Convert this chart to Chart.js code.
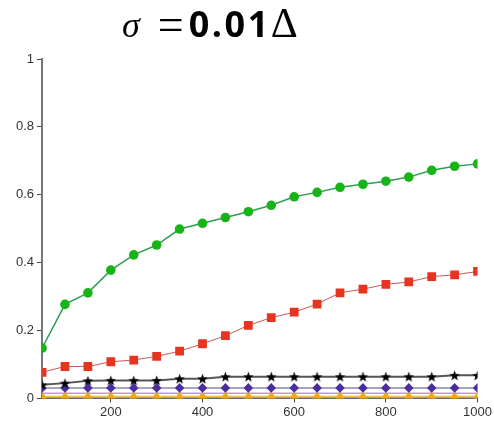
<!DOCTYPE html>
<html>
<head>
<meta charset="utf-8">
<script src="https://cdn.jsdelivr.net/npm/chart.js@4.4.0/dist/chart.umd.min.js"></script>
<style>
  html, body { margin: 0; padding: 0; background: #fff; }
  #wrap { position: relative; width: 494px; height: 424px; }
  #title { position: absolute; left: 122px; top: -3px; height: 50px; white-space: nowrap; line-height: 50px; color: #000; z-index: 2; }
  #title .sig { font-family: 'Liberation Serif', serif; font-style: italic; font-size: 36px; }
  #title .eq { font-family: 'Liberation Serif', serif; font-size: 46px; margin: 0 5px 0 18px; position: relative; top: 3px; }
  #title .num { font-family: 'Open Sans', sans-serif; font-weight: 700; font-size: 36px; letter-spacing: 2.5px; }
  #title .del { font-family: 'Liberation Serif', serif; font-size: 42px; }
  canvas { position: absolute; left: 0; top: 0; }
</style>
</head>
<body>
<div id="wrap">
  <div id="title"><span class="sig">σ</span><span class="eq">=</span><span class="num">0.01</span><span class="del">Δ</span></div>
  <canvas id="chart" width="494" height="424"></canvas>
</div>
<script>
// x positions of the samples
const xVals = [50,100,150,200,250,300,350,400,450,500,550,600,650,700,750,800,850,900,950,1000];
const xTicks = [200,400,600,800,1000];
const yTicks = [0,0.2,0.4,0.6,0.8,1];

// series
const greenCircles = [0.148,0.277,0.311,0.378,0.423,0.452,0.499,0.516,0.533,0.550,0.569,0.594,0.607,0.622,0.631,0.640,0.652,0.672,0.684,0.691];
const redSquares   = [0.077,0.094,0.094,0.108,0.113,0.124,0.139,0.161,0.185,0.215,0.238,0.254,0.278,0.311,0.322,0.336,0.343,0.359,0.364,0.374];
const blackStars   = [0.040,0.045,0.052,0.053,0.053,0.053,0.058,0.058,0.064,0.064,0.064,0.064,0.064,0.064,0.064,0.064,0.064,0.064,0.068,0.068];
const purpleDiam   = [0.031,0.031,0.031,0.031,0.031,0.031,0.031,0.031,0.031,0.031,0.031,0.031,0.031,0.031,0.031,0.031,0.031,0.031,0.031,0.031];
const violetLine   = [0.015,0.015,0.015,0.015,0.015,0.015,0.015,0.015,0.015,0.015,0.015,0.015,0.015,0.015,0.015,0.015,0.015,0.015,0.015,0.015];
const orangeTri    = [0.005,0.005,0.005,0.005,0.005,0.005,0.005,0.005,0.005,0.005,0.005,0.005,0.005,0.005,0.005,0.005,0.005,0.005,0.005,0.005];

// filled 5-point star marker (chart.js 'star' is only strokes)
function makeStar(size, color) {
  const c = document.createElement('canvas');
  c.width = size; c.height = size;
  const g = c.getContext('2d');
  const cx = size / 2, cy = size / 2 + 0.5, R = size / 2, r = R * 0.42;
  g.beginPath();
  for (let i = 0; i < 10; i++) {
    const a = -Math.PI / 2 + i * Math.PI / 5;
    const rr = i % 2 === 0 ? R : r;
    g.lineTo(cx + rr * Math.cos(a), cy + rr * Math.sin(a));
  }
  g.closePath();
  g.fillStyle = color;
  g.fill();
  return c;
}
const starImg = makeStar(11, '#000');

const pts = arr => arr.map((v, i) => ({ x: xVals[i], y: v }));

new Chart(document.getElementById('chart'), {
  type: 'line',
  data: {
    datasets: [
      { data: pts(greenCircles), borderColor: '#2f9e52', borderWidth: 1.5, pointStyle: 'circle', pointRadius: 4.8,
        pointBackgroundColor: '#17b417', pointBorderColor: '#17b417', pointBorderWidth: 0 },
      { data: pts(redSquares), borderColor: '#c85a5a', borderWidth: 1, pointStyle: 'rect', pointRadius: 6.2,
        pointBackgroundColor: '#e63420', pointBorderColor: '#e63420', pointBorderWidth: 0 },
      { data: pts(blackStars), borderColor: '#555', borderWidth: 2, pointStyle: starImg, pointRadius: 5 },
      { data: pts(purpleDiam), borderColor: '#8a86b0', borderWidth: 1.5, pointStyle: 'rectRot', pointRadius: 4.8,
        pointBackgroundColor: '#4a2ea0', pointBorderColor: '#4a2ea0', pointBorderWidth: 0 },
      { data: pts(violetLine), borderColor: '#c39ad0', borderWidth: 1.5, pointRadius: 0 },
      { data: pts(orangeTri), borderColor: '#e8c23a', borderWidth: 2, pointStyle: 'triangle', pointRadius: 5.8,
        pointBackgroundColor: '#f5a900', pointBorderColor: '#f5a900', pointBorderWidth: 0 }
    ]
  },
  options: {
    responsive: false,
    animation: false,
    layout: { padding: { top: 59, left: 13, right: 0, bottom: 2 } },
    plugins: { legend: { display: false }, title: { display: false }, tooltip: { enabled: false } },
    elements: { line: { tension: 0 } },
    scales: {
      x: {
        type: 'linear', min: 50, max: 1000,
        afterBuildTicks: axis => { axis.ticks = xTicks.map(v => ({ value: v })); },
        grid: { drawOnChartArea: false, tickLength: 4, tickColor: '#444' },
        border: { color: '#666', width: 2 },
        ticks: { color: '#333', font: { family: 'Liberation Sans', size: 13 }, padding: 2, maxRotation: 0,
          callback: v => String(v) }
      },
      y: {
        min: 0, max: 1,
        afterBuildTicks: axis => { axis.ticks = yTicks.map(v => ({ value: v })); },
        grid: { drawOnChartArea: false, tickLength: 5, tickColor: '#444' },
        border: { color: '#777', width: 2 },
        ticks: { color: '#333', font: { family: 'Liberation Sans', size: 13 }, padding: 3,
          callback: v => String(Math.round(v * 10) / 10) }
      }
    }
  }
});
</script>
</body>
</html>
